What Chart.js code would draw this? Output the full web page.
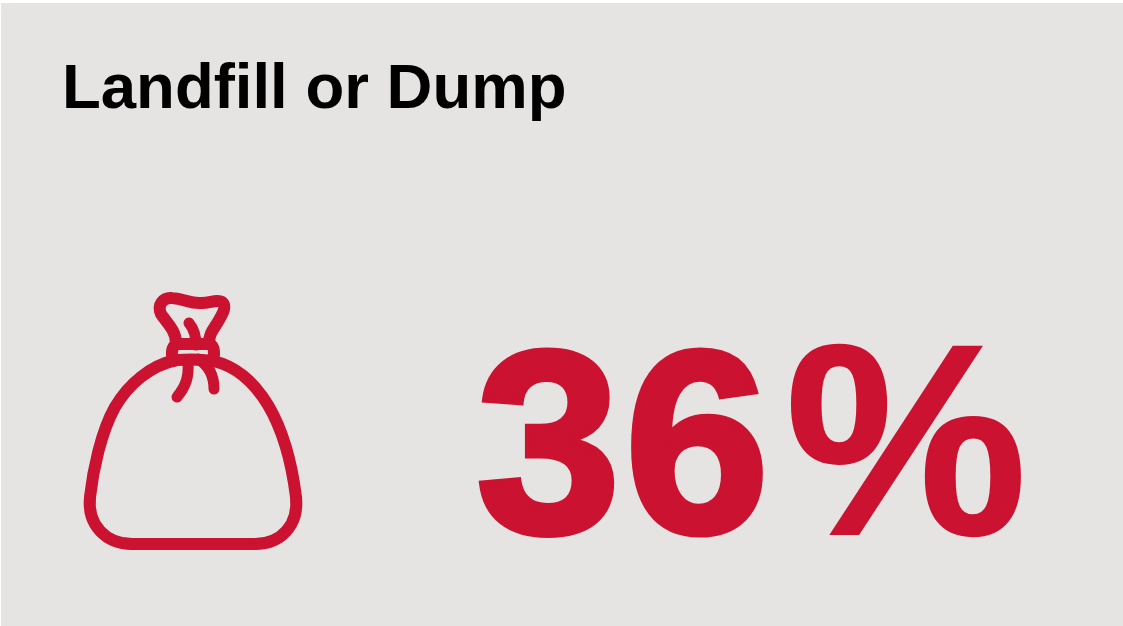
<!DOCTYPE html>
<html lang="en">
<head>
    <meta charset="UTF-8">
    <title>Landfill or Dump</title>
    <script src="https://cdn.jsdelivr.net/npm/chart.js"></script>
    <style>
        html, body {
            margin: 0;
            padding: 0;
            background-color: #ffffff;
            overflow: hidden;
        }
        canvas {
            display: block;
        }
    </style>
</head>
<body>
    <canvas id="chart" width="1123" height="626"></canvas>

    <script>
        const categories = ['Landfill or Dump'];
        const shareValues = [36];

        const RED = '#cb1230';
        const PANEL = '#e5e4e2';

        // garbage bag icon
        const bagOutline = 'M177 360 C150 365 128 385 115 407 C101 432 93 470 90 497 C87 525 106 544 132 544 L255 544 C281 544 299 525 296 497 C292 465 284 432 268 405 C254 382 236 366 213 361 C200 359 190 359 177 360 Z';
        const bagNeck = 'M176 343 C176 330 166 322 161 314 C157 305 163 297 172 298 C185 299 190 304 202 303 C210 303 217 299 222 302 C227 306 223 313 219 320 C214 329 209 333 209 343';
        const bagBand = 'M176 344 L210 344 C214 346 215 352 213 361 M176 344 C172 347 171 353 173 361';
        const bagStrands = 'M189 323 C194 329 196 335 196 345 M188 362 C189 377 186 386 177 397 M198 359 C208 365 214 374 214 389';

        const panelPlugin = {
            id: 'panel',
            beforeDraw(chart) {
                const ctx = chart.ctx;
                ctx.save();
                ctx.fillStyle = PANEL;
                ctx.fillRect(1, 3, chart.width - 1, chart.height - 3);
                ctx.restore();
            }
        };

        const iconPlugin = {
            id: 'icon',
            afterDraw(chart) {
                const ctx = chart.ctx;
                ctx.save();
                ctx.strokeStyle = RED;
                ctx.lineCap = 'round';
                ctx.lineJoin = 'round';
                ctx.lineWidth = 12;
                ctx.stroke(new Path2D(bagOutline));
                ctx.stroke(new Path2D(bagNeck));
                ctx.stroke(new Path2D(bagBand));
                ctx.lineWidth = 11;
                ctx.stroke(new Path2D(bagStrands));
                ctx.restore();
            }
        };

        const bigNumberPlugin = {
            id: 'bigNumber',
            afterDraw(chart) {
                const ctx = chart.ctx;
                const digits = String(chart.data.datasets[0].data[0]);
                const x = 476;
                const y = 532;
                ctx.save();
                ctx.fillStyle = RED;
                ctx.strokeStyle = RED;
                ctx.lineJoin = 'miter';
                ctx.font = 'bold 260px "Liberation Sans", Arial, sans-serif';
                ctx.letterSpacing = '4px';
                ctx.textAlign = 'left';
                ctx.textBaseline = 'alphabetic';
                // the original numerals are heavier than Liberation Bold
                ctx.lineWidth = 6;
                ctx.fillText(digits, x, y);
                ctx.strokeText(digits, x, y);
                const percentX = x + ctx.measureText(digits).width + 12;
                ctx.font = 'bold 272px "Liberation Sans", Arial, sans-serif';
                ctx.lineWidth = 2;
                ctx.fillText('%', percentX, y + 2);
                ctx.strokeText('%', percentX, y + 2);
                ctx.restore();
            }
        };

        new Chart(document.getElementById('chart'), {
            type: 'bar',
            data: {
                labels: categories,
                datasets: [{
                    data: shareValues,
                    backgroundColor: 'rgba(0,0,0,0)'
                }]
            },
            options: {
                responsive: false,
                animation: false,
                layout: { padding: { left: 62, top: 52 } },
                scales: {
                    x: { display: false },
                    y: { display: false, min: 0, max: 100 }
                },
                plugins: {
                    legend: { display: false },
                    tooltip: { enabled: false },
                    title: {
                        display: true,
                        text: categories[0],
                        align: 'start',
                        color: '#000000',
                        padding: 0,
                        font: { family: '"Liberation Sans", Arial, sans-serif', size: 63.5, weight: 'bold' }
                    }
                }
            },
            plugins: [panelPlugin, iconPlugin, bigNumberPlugin]
        });
    </script>
</body>
</html>
